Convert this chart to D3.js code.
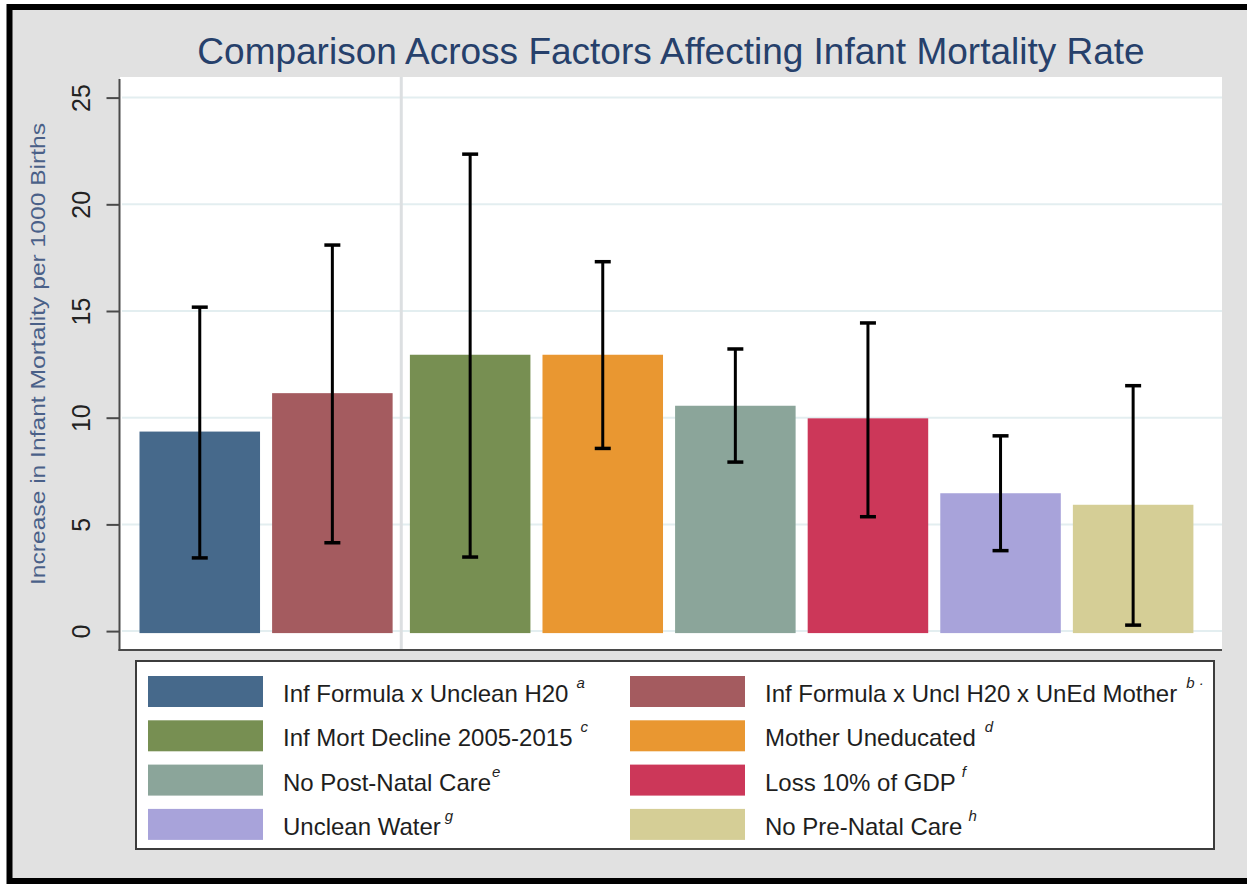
<!DOCTYPE html>
<html>
<head>
<meta charset="utf-8">
<script src="https://cdn.jsdelivr.net/npm/d3@7"></script>
<style>
  html, body { margin: 0; padding: 0; background: #ffffff; }
  svg { display: block; }
  text { font-family: "Liberation Sans", Arial, sans-serif; }
</style>
</head>
<body>
<svg id="chart" width="1247" height="884"></svg>
<script>
// ---------------- data ----------------
const categories = [
  "Inf Formula x Unclean H20",
  "Inf Formula x Uncl H20 x UnEd Mother",
  "Inf Mort Decline 2005-2015",
  "Mother Uneducated",
  "No Post-Natal Care",
  "Loss 10% of GDP",
  "Unclean Water",
  "No Pre-Natal Care"
];
const superscripts = ["a", "b \u00b7", "c", "d", "e", "f", "g", "h"];
const values = [9.35, 11.15, 12.95, 12.95, 10.56, 9.97, 6.46, 5.92];
const lowerCI = [3.43, 4.14, 3.47, 8.56, 7.92, 5.36, 3.77, 0.28];
const upperCI = [15.18, 18.09, 22.35, 17.31, 13.22, 14.44, 9.15, 11.50];
const groups = [0, 0, 1, 1, 1, 1, 1, 1];
const yTicks = [0, 5, 10, 15, 20, 25];
const colors = ["#46698b", "#a45b5f", "#778f52", "#e99731", "#8ba59a", "#cc3759", "#a8a3da", "#d5ce96"];
const titleText = "Comparison Across Factors Affecting Infant Mortality Rate";
const yTitleText = "Increase in Infant Mortality per 1000 Births";

// ---------------- layout ----------------
const svg = d3.select("#chart");
const W = 1247, H = 884;
const plot = { left: 120, right: 1222, top: 77, bottom: 651 };
const groupGap = 5.2;

// background + frame
svg.append("rect").attr("x", 9.5).attr("y", 7).attr("width", W + 20).attr("height", 874)
  .attr("fill", "#e1e1e1").attr("stroke", "#000").attr("stroke-width", 6);

// plot region
svg.append("rect").attr("x", plot.left).attr("y", plot.top)
  .attr("width", plot.right - plot.left).attr("height", plot.bottom - plot.top)
  .attr("fill", "#ffffff");

const y = d3.scaleLinear().domain([0, 25]).range([631.1, 97.6]);
const x = d3.scaleBand().domain(categories)
  .range([139.5, 1188.2]).paddingInner(0.091).paddingOuter(0);
const xPos = (d, i) => x(d) + groups[i] * groupGap;

// grid lines
svg.append("g").selectAll("line").data(yTicks).join("line")
  .attr("x1", plot.left + 2).attr("x2", plot.right)
  .attr("y1", d => y(d)).attr("y2", d => y(d))
  .attr("stroke", "#e3eef0").attr("stroke-width", 2);

// group divider
const divX = (x(categories[1]) + x.bandwidth() + x(categories[2]) + groupGap) / 2;
svg.append("line").attr("x1", divX).attr("x2", divX)
  .attr("y1", plot.top).attr("y2", plot.bottom)
  .attr("stroke", "#dcdfe1").attr("stroke-width", 3);

// bars
svg.append("g").selectAll("rect").data(categories).join("rect")
  .attr("x", (d, i) => xPos(d, i))
  .attr("width", x.bandwidth())
  .attr("y", (d, i) => y(values[i]))
  .attr("height", (d, i) => y(0) - y(values[i]) + 2)
  .attr("fill", (d, i) => colors[i]);

// error bars
const eb = svg.append("g").attr("stroke", "#000");
categories.forEach((d, i) => {
  const cx = xPos(d, i) + x.bandwidth() / 2;
  eb.append("line").attr("x1", cx).attr("x2", cx)
    .attr("y1", y(lowerCI[i])).attr("y2", y(upperCI[i])).attr("stroke-width", 3);
  [lowerCI[i], upperCI[i]].forEach(v => {
    eb.append("line").attr("x1", cx - 8).attr("x2", cx + 8)
      .attr("y1", y(v)).attr("y2", y(v)).attr("stroke-width", 3.5);
  });
});

// axes lines
svg.append("line").attr("x1", plot.left - 0.5).attr("x2", plot.left - 0.5)
  .attr("y1", plot.top + 2).attr("y2", plot.bottom)
  .attr("stroke", "#4a4a4a").attr("stroke-width", 2);
svg.append("line").attr("x1", plot.left - 1.5).attr("x2", plot.right)
  .attr("y1", plot.bottom - 1).attr("y2", plot.bottom - 1)
  .attr("stroke", "#4a4a4a").attr("stroke-width", 2);

// y axis (ticks + labels) via d3 axis
const yAxis = d3.axisLeft(y).tickValues(yTicks).tickSize(13).tickFormat(d3.format("d"));
const gy = svg.append("g").attr("transform", `translate(${plot.left - 0.5},0)`).call(yAxis);
gy.select(".domain").remove();
gy.selectAll(".tick line").attr("stroke", "#4a4a4a").attr("stroke-width", 2);
gy.selectAll(".tick text")
  .attr("x", null).attr("dy", null)
  .attr("transform", "translate(-30,0) rotate(-90)")
  .attr("text-anchor", "middle")
  .attr("fill", "#222")
  .style("font-size", "25px")
  .style("font-family", "'Liberation Sans', Arial, sans-serif");

// y title
svg.append("text")
  .attr("transform", "translate(45,354) rotate(-90)")
  .attr("text-anchor", "middle")
  .attr("fill", "#4a6088")
  .attr("textLength", 462).attr("lengthAdjust", "spacingAndGlyphs")
  .style("font-size", "21px")
  .text(yTitleText);

// title
svg.append("text")
  .attr("x", 671).attr("y", 64)
  .attr("text-anchor", "middle")
  .attr("fill", "#26406b")
  .style("font-size", "37px")
  .text(titleText);

// legend
const lg = svg.append("g");
lg.append("rect").attr("x", 136).attr("y", 661).attr("width", 1078).attr("height", 188)
  .attr("fill", "#ffffff").attr("stroke", "#3c3c3c").attr("stroke-width", 2);
const supGap = [8, 9, 8, 9, 1, 6, 4, 6];
categories.forEach((d, i) => {
  const col = i % 2, row = Math.floor(i / 2);
  const sx = col === 0 ? 148 : 630;
  const sy = 676 + row * 44.3;
  lg.append("rect").attr("x", sx).attr("y", sy).attr("width", 115).attr("height", 31)
    .attr("fill", colors[i]);
  const t = lg.append("text").attr("x", sx + 135).attr("y", sy + 26)
    .attr("fill", "#1e1e1e").style("font-size", "24px");
  t.append("tspan").text(d);
  t.append("tspan").attr("dx", supGap[i]).attr("dy", -14)
    .style("font-size", "15px").style("font-style", "italic")
    .style("white-space", "pre")
    .text(superscripts[i]);
});
</script>
</body>
</html>
